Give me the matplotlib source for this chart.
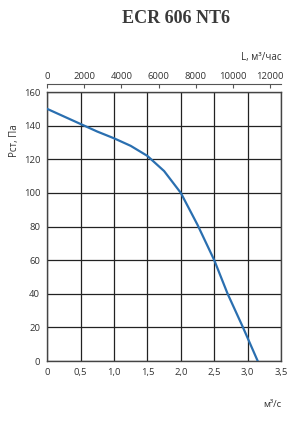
import matplotlib
matplotlib.use("Agg")
import matplotlib.pyplot as plt

# fan curve: flow (m3/s) vs static pressure (Pa)
flow = [0, 0.25, 0.5, 0.75, 1.0, 1.25, 1.5, 1.75, 2.0, 2.25, 2.5, 2.7, 2.93, 3.15]
pressure = [150, 145.5, 141, 136.5, 132.5, 128, 122, 113, 100, 81, 60, 40, 20, 0]

x_ticks = [0, 0.5, 1.0, 1.5, 2.0, 2.5, 3.0, 3.5]
x_labels = ["0", "0,5", "1,0", "1,5", "2,0", "2,5", "3,0", "3,5"]
y_ticks = [0, 20, 40, 60, 80, 100, 120, 140, 160]
top_ticks = [0, 2000, 4000, 6000, 8000, 10000, 12000]

txt = "#333333"
plt.rcParams['font.family'] = ['Open Sans', 'DejaVu Sans']

fig = plt.figure(figsize=(3.0, 4.22), dpi=100)
ax = fig.add_axes([0.157, 0.1445, 0.78, 0.6374])

ax.plot(flow, pressure, color="#2a6fb0", lw=1.6, zorder=3)

ax.set_xlim(0, 3.5)
ax.set_ylim(0, 160)
ax.set_xticks(x_ticks)
ax.set_xticklabels(x_labels)
ax.set_yticks(y_ticks)
ax.grid(True, color="#222222", lw=0.9)
ax.tick_params(length=0, labelsize=6.8, colors=txt, pad=5)
for s in ax.spines.values():
    s.set_color("#444444")
    s.set_linewidth(1.0)

ax.set_ylabel("Рст, Па", fontsize=7, color=txt)
ax.yaxis.set_label_coords(-0.115, 0.82)
ax.text(1.0, -0.16, "м³/с", transform=ax.transAxes, ha="right", va="center",
        fontsize=6.8, color=txt)

# top axis in m3/h
sec = ax.secondary_xaxis('top', functions=(lambda v: v * 3600, lambda v: v / 3600))
sec.set_xticks(top_ticks)
sec.spines['top'].set_position(('outward', 6))
sec.spines['top'].set_color("#555555")
sec.tick_params(direction='in', length=3, labelsize=6.8, colors=txt, pad=2,
                color="#555555")
ax.text(1.0, 1.13, "L, м³/час", transform=ax.transAxes, ha="right", va="center",
        fontsize=7, color=txt)

fig.text(0.585, 0.957, "ECR 606 NT6", ha="center", va="center", fontsize=13,
         fontweight="bold", family="Liberation Serif", color="#3a3a3a")

fig.savefig("out.png", dpi=100, facecolor="white")
